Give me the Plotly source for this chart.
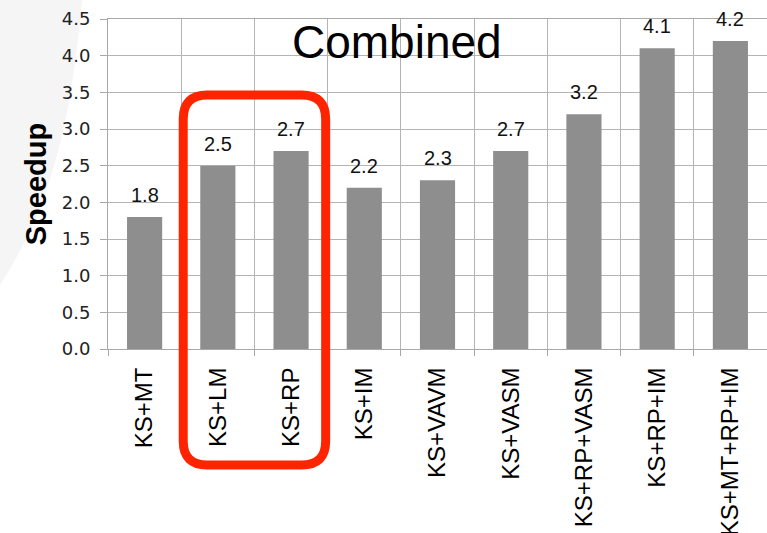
import plotly.graph_objects as go

# Speedup of combined techniques
categories = ["KS+MT", "KS+LM", "KS+RP", "KS+IM", "KS+VAVM",
              "KS+VASM", "KS+RP+VASM", "KS+RP+IM", "KS+MT+RP+IM"]
speedup = [1.8, 2.5, 2.7, 2.2, 2.3, 2.7, 3.2, 4.1, 4.2]
y_ticks = [0.0, 0.5, 1.0, 1.5, 2.0, 2.5, 3.0, 3.5, 4.0, 4.5]
highlighted = ["KS+LM", "KS+RP"]

W, H = 767, 533
M_L, M_R, M_T, M_B = 108, 0, 19, 184
plot_w = W - M_L - M_R
plot_h = H - M_T - M_B

fig = go.Figure()
fig.add_trace(go.Bar(
    x=categories, y=speedup,
    marker=dict(color="#8e8e8e", line=dict(width=0)),
    width=0.48,
    hoverinfo="skip",
))

# value labels above bars
for c, v in zip(categories, speedup):
    fig.add_annotation(x=c, y=v, text=f"{v:.1f}", showarrow=False,
                       yanchor="bottom", yshift=9,
                       font=dict(family="Liberation Sans, Arial", size=20, color="#111"))

# rounded highlight frame around the highlighted categories (paper coords)
n = len(categories)
i0 = categories.index(highlighted[0])
i1 = categories.index(highlighted[-1])
x0 = i0 / n + 2.0 / plot_w
x1 = (i1 + 1) / n - 2.0 / plot_w
y1 = (349 - 95) / plot_h
y0 = (349 - 465) / plot_h
rx = 24 / plot_w
ry = 24 / plot_h
path = (f"M {x0 + rx} {y1} L {x1 - rx} {y1} Q {x1} {y1} {x1} {y1 - ry} "
        f"L {x1} {y0 + ry} Q {x1} {y0} {x1 - rx} {y0} "
        f"L {x0 + rx} {y0} Q {x0} {y0} {x0} {y0 + ry} "
        f"L {x0} {y1 - ry} Q {x0} {y1} {x0 + rx} {y1} Z")
fig.add_shape(type="path", path=path, xref="paper", yref="paper",
              line=dict(color="#ff2400", width=9), layer="above")

# faint background swoosh on the left
sx = lambda px: (px - M_L) / plot_w
sy = lambda py: (M_T + plot_h - py) / plot_h
swoosh = (f"M {sx(0)} {sy(0)} L {sx(82)} {sy(0)} "
          f"C {sx(72)} {sy(110)} {sx(55)} {sy(200)} {sx(0)} {sy(285)} Z")
fig.add_shape(type="path", path=swoosh, xref="paper", yref="paper",
              fillcolor="#f5f5f5", line=dict(width=0), layer="below")

fig.add_annotation(text="Combined", xref="paper", yref="paper",
                   x=(397 - M_L) / plot_w, y=sy(42), showarrow=False,
                   xanchor="center", yanchor="middle",
                   font=dict(family="Liberation Sans, Arial", size=46, color="#000"))

fig.update_layout(
    width=W, height=H,
    margin=dict(l=M_L, r=M_R, t=M_T, b=M_B, pad=0),
    paper_bgcolor="white", plot_bgcolor="rgba(0,0,0,0)",
    showlegend=False,
    bargap=0.52,
    xaxis=dict(
        type="category", tickson="boundaries",
        automargin=False,
        showgrid=True, gridcolor="#b4b4b4", gridwidth=1,
        showline=True, linecolor="#a8a8a8", linewidth=1,
        ticks="outside", ticklen=6, tickcolor="#a8a8a8",
        tickangle=-90,
        tickfont=dict(family="Liberation Sans, Arial", size=24, color="#000"),
        ticklabelstandoff=8,
        range=[-0.5, n - 0.5],
        mirror=True,
    ),
    yaxis=dict(
        range=[0, 4.5], tickvals=y_ticks,
        automargin=False,
        ticktext=[f"{t:.1f}" for t in y_ticks],
        showgrid=True, gridcolor="#b4b4b4", gridwidth=1,
        showline=True, linecolor="#a8a8a8", linewidth=1,
        ticks="outside", ticklen=7, tickcolor="#a8a8a8",
        zeroline=False,
        tickfont=dict(family="DejaVu Sans", size=18, color="#222"),
        ticklabelstandoff=6,
        title=dict(text="<b>Speedup</b>", standoff=6,
                   font=dict(family="Liberation Sans, Arial", size=29, color="#000")),
    ),
)

fig.write_html("out.html")
